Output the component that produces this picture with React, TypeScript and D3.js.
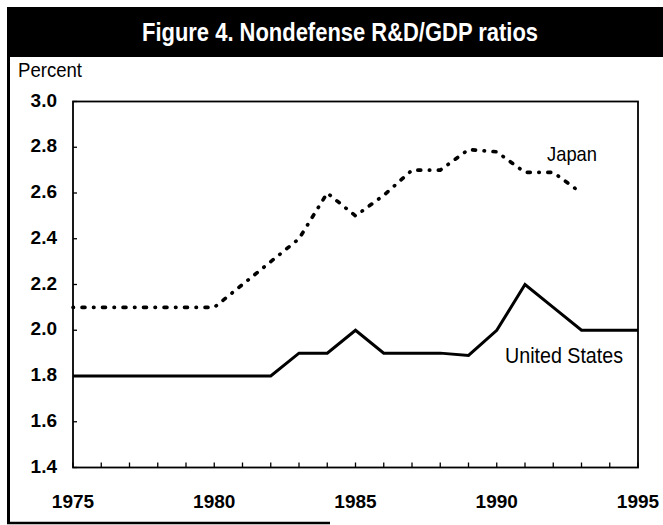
import React from "react";
import * as d3 from "d3";

const years = [1975, 1976, 1977, 1978, 1979, 1980, 1981, 1982, 1983, 1984, 1985, 1986, 1987, 1988, 1989, 1990, 1991, 1992, 1993, 1994, 1995];
const usValues = [1.8, 1.8, 1.8, 1.8, 1.8, 1.8, 1.8, 1.8, 1.9, 1.9, 2.0, 1.9, 1.9, 1.9, 1.89, 2.0, 2.2, 2.1, 2.0, 2.0, 2.0];
const japanYears = [1975, 1976, 1977, 1978, 1979, 1980, 1981, 1982, 1983, 1984, 1985, 1986, 1987, 1988, 1989, 1990, 1991, 1992, 1993];
const japanValues = [2.1, 2.1, 2.1, 2.1, 2.1, 2.1, 2.2, 2.3, 2.4, 2.6, 2.5, 2.59, 2.7, 2.7, 2.79, 2.78, 2.69, 2.69, 2.6];
const yTicks = [1.4, 1.6, 1.8, 2.0, 2.2, 2.4, 2.6, 2.8, 3.0];
const xTickLabels = [1975, 1980, 1985, 1990, 1995];
const title = "Figure 4. Nondefense R&D/GDP ratios";
const yAxisTitle = "Percent";
const seriesLabels = ["Japan", "United States"];

const narrow = "'Liberation Sans Narrow', 'Arial Narrow', 'Liberation Sans', Arial, sans-serif";
const sans = "'Liberation Sans', Arial, Helvetica, sans-serif";

export default function App() {
  const x = d3.scaleLinear().domain([1975, 1995]).range([73, 638]);
  const y = d3.scaleLinear().domain([1.4, 3.0]).range([467.5, 101.5]);

  const line = d3
    .line<[number, number]>()
    .x((d) => x(d[0]))
    .y((d) => y(d[1]));

  const usPath = line(years.map((yr, i) => [yr, usValues[i]]) as [number, number][]) || "";
  const jpPath = line(japanYears.map((yr, i) => [yr, japanValues[i]]) as [number, number][]) || "";

  const x0 = x.range()[0];
  const x1 = x.range()[1];
  const yTop = y.range()[1];
  const yBot = y.range()[0];

  return (
    <svg
      width={663}
      height={525}
      style={{ position: "absolute", left: 0, top: 0, background: "#fff" }}
    >
      <rect x={0} y={0} width={663} height={525} fill="#fff" />
      {/* title bar */}
      <rect x={7} y={7} width={656} height={50} fill="#000" />
      <text
        x={142}
        y={41}
        fill="#fff"
        fontFamily={narrow}
        fontSize={25}
        fontWeight="bold"
        textLength={396}
        lengthAdjust="spacingAndGlyphs"
      >
        {title}
      </text>
      {/* outer frame */}
      <line x1={8.5} y1={7} x2={8.5} y2={524} stroke="#000" strokeWidth={3} />
      <line x1={7} y1={523} x2={330} y2={523} stroke="#000" strokeWidth={2.5} />

      {/* y axis title */}
      <text
        x={18}
        y={77}
        fontFamily={narrow}
        fontSize={20}
        fill="#000"
        textLength={64}
        lengthAdjust="spacingAndGlyphs"
      >
        {yAxisTitle}
      </text>

      {/* plot frame */}
      <rect x={x0} y={yTop} width={x1 - x0} height={yBot - yTop} fill="none" stroke="#000" strokeWidth={1.8} />

      {/* y ticks */}
      {yTicks.map((t) => (
        <g key={"y" + t}>
          <line x1={x0} x2={x0 + 4} y1={y(t)} y2={y(t)} stroke="#000" strokeWidth={1.3} />
          <text
            x={57}
            y={y(t) + 5}
            textAnchor="end"
            fontFamily={sans}
            fontSize={19}
            fontWeight="bold"
            fill="#000"
          >
            {t.toFixed(1)}
          </text>
        </g>
      ))}

      {/* x ticks */}
      {years.map((yr) => (
        <line key={"x" + yr} x1={x(yr)} x2={x(yr)} y1={yBot} y2={yBot - 5} stroke="#000" strokeWidth={1.3} />
      ))}
      {xTickLabels.map((yr) => (
        <text
          key={"xl" + yr}
          x={x(yr)}
          y={508}
          textAnchor="middle"
          fontFamily={sans}
          fontSize={19}
          fontWeight="bold"
          fill="#000"
        >
          {yr}
        </text>
      ))}

      {/* series */}
      <path d={jpPath} fill="none" stroke="#000" strokeWidth={3.6} strokeLinecap="round" strokeDasharray="0.5 8.5 3 8.5" />
      <path d={usPath} fill="none" stroke="#000" strokeWidth={3} strokeLinejoin="miter" />

      {/* labels */}
      <text
        x={547}
        y={161}
        fontFamily={narrow}
        fontSize={21}
        fill="#000"
        textLength={50}
        lengthAdjust="spacingAndGlyphs"
      >
        {seriesLabels[0]}
      </text>
      <text
        x={505}
        y={363}
        fontFamily={narrow}
        fontSize={22}
        fill="#000"
        textLength={118}
        lengthAdjust="spacingAndGlyphs"
      >
        {seriesLabels[1]}
      </text>
    </svg>
  );
}
